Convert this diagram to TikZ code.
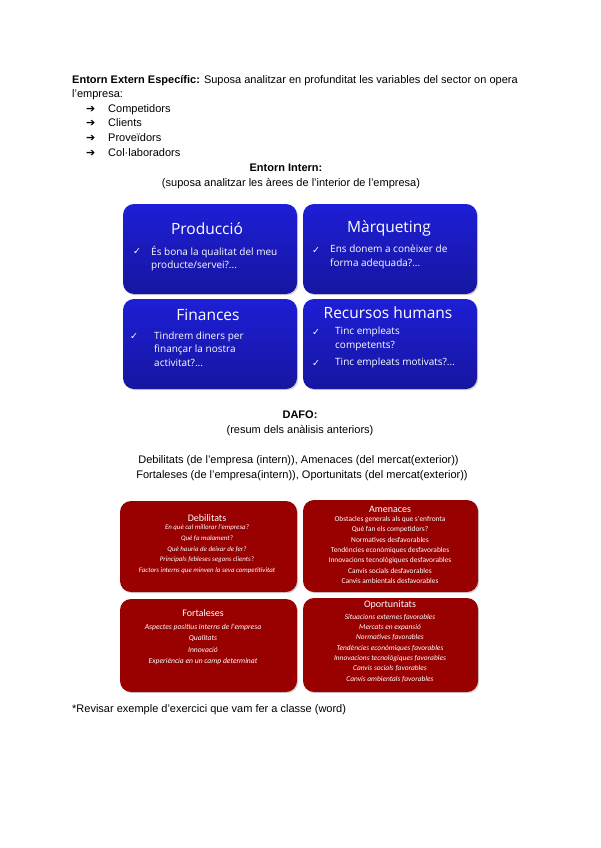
\documentclass[tikz,border=0pt]{standalone}
\usepackage{fontspec}
\setmainfont{Liberation Sans}
\newfontfamily\areafont{Open Sans}
\newfontfamily\dafofont{Carlito}
\newfontfamily\symfont{DejaVu Sans}
\usetikzlibrary{positioning,shadows}
\definecolor{areatop}{RGB}{30,30,214}
\definecolor{areabot}{RGB}{22,22,160}
\definecolor{dafored}{RGB}{153,0,0}

\begin{document}
\begin{tikzpicture}[x=1pt,y=-1pt,
txt/.style={anchor=base west,inner sep=0,font=\fontsize{11}{13}\selectfont},
mid/.style={anchor=base,inner sep=0,font=\fontsize{11}{13}\selectfont},
area/.style={rounded corners=11pt,minimum width=174pt,minimum height=90pt,
top color=areatop,bottom color=areabot,draw=none,
drop shadow={opacity=.35,shadow xshift=1.2pt,shadow yshift=-1.2pt}},
areahead/.style={text=white,inner sep=0,font=\areafont\fontsize{15.5}{18}\selectfont},
tick/.style={text=white,inner sep=0,font=\symfont\fontsize{9.5}{10}\selectfont},
areaitem/.style={text=white,anchor=north west,inner sep=0,align=left,
font=\areafont\fontsize{10}{13.6}\selectfont},
swot/.style={rounded corners=11pt,fill=dafored,draw=none,
drop shadow={opacity=.35,shadow xshift=1.2pt,shadow yshift=-1.2pt}},
swothead/.style={text=white,inner sep=0,font=\dafofont\fontsize{10}{12}\selectfont},
swotitem/.style={text=white,anchor=north,inner sep=0,align=center,
font=\dafofont\fontsize{7.4}{10.6}\selectfont}]
\useasboundingbox (0,0) rectangle (600,848);
% entorn extern
\node[txt] (extern) at (72,84) {\textbf{Entorn Extern Específic:} Suposa analitzar en profunditat les variables del sector on opera};
\node[txt] (empresa) at (72,98) {l'empresa:};
\foreach \nom [count=\i] in {Competidors,Clients,Proveïdors,Col·laboradors}{
\node[txt,font=\symfont\bfseries\fontsize{11}{13}\selectfont] (arrow\i) at (86,97.7+14.6*\i) {➔};
\node[txt] (factor\i) at (108,97.7+14.6*\i) {\nom};
}
% entorn intern
\node[mid] (intern) at (286,171) {\textbf{Entorn Intern:}};
\node[mid] (internsub) at (291,186) {(suposa analitzar les àrees de l'interior de l'empresa)};
\node[area] (prod) at (210,249) {};
\node[area] (mark) at (390,249) {};
\node[area] (fin) at (210,344) {};
\node[area] (rrhh) at (390,344) {};
\node[areahead] (prodhead) at (207,229) {Producció};
\node[areahead] (markhead) at (389,228) {Màrqueting};
\node[areahead] (finhead) at (208,315) {Finances};
\node[areahead] (rrhhhead) at (388,313) {Recursos humans};
\node[tick] (prodtick) at (137,252) {✓};
\node[areaitem] (prodtext) at (151,245.5) {És bona la qualitat del meu\\producte/servei?...};
\node[tick] (marktick) at (316,251) {✓};
\node[areaitem] (marktext) at (330,245) {Ens donem a conèixer de\\forma adequada?...};
\node[tick] (fintick) at (134,337) {✓};
\node[areaitem] (fintext) at (154,331.5) {Tindrem diners per\\finançar la nostra\\activitat?...};
\node[tick] (rrhhtick) at (316,333) {✓};
\node[areaitem] (rrhhtext) at (335,327) {Tinc empleats\\competents?};
\node[tick] (rrhhtick2) at (316,364) {✓};
\node[areaitem] (rrhhtext2) at (335,358) {Tinc empleats motivats?...};
% dafo
\node[mid] (dafo) at (300,418) {\textbf{DAFO:}};
\node[mid] (dafosub) at (300,433) {(resum dels anàlisis anteriors)};
\node[mid] (dafoline1) at (298.5,463) {Debilitats (de l'empresa (intern)), Amenaces (del mercat(exterior))};
\node[mid] (dafoline2) at (302,478) {Fortaleses (de l'empresa(intern)), Oportunitats (del mercat(exterior))};
\node[swot,minimum width=177pt,minimum height=91pt] (deb) at (208.5,546.5) {};
\node[swot,minimum width=175pt,minimum height=92pt] (ame) at (390.5,546) {};
\node[swot,minimum width=177pt,minimum height=93pt] (fort) at (208.5,645.5) {};
\node[swot,minimum width=175pt,minimum height=94pt] (opor) at (390.5,645) {};
\node[swothead] (debhead) at (207,518) {Debilitats};
\node[swotitem,font=\dafofont\itshape\fontsize{6.9}{10.6}\selectfont] (debtext) at (207,525) {En què cal millorar l'empresa?\\Què fa malament?\\Què hauria de deixar de fer?\\Principals febleses segons clients?\\Factors interns que minven la seva competitivitat};
\node[swothead] (amehead) at (390,509) {Amenaces};
\node[swotitem,font=\dafofont\fontsize{7.4}{10.4}\selectfont] (ametext) at (390,516) {Obstacles generals als que s'enfronta\\Què fan els competidors?\\Normatives desfavorables\\Tendències econòmiques desfavorables\\Innovacions tecnològiques desfavorables\\Canvis socials desfavorables\\Canvis ambientals desfavorables};
\node[swothead] (forthead) at (203,613) {Fortaleses};
\node[swotitem,font=\dafofont\itshape\fontsize{7.6}{11.3}\selectfont] (forttext) at (203,624) {Aspectes positius interns de l'empresa\\Qualitats\\Innovació\\Experiència en un camp determinat};
\node[swothead] (oporhead) at (390,605) {Oportunitats};
\node[swotitem,font=\dafofont\itshape\fontsize{7.4}{10.3}\selectfont] (oportext) at (390,614) {Situacions externes favorables\\Mercats en expansió\\Normatives favorables\\Tendències econòmiques favorables\\Innovacions tecnològiques favorables\\Canvis socials favorables\\Canvis ambientals favorables};
\node[txt] (revisar) at (72,712) {*Revisar exemple d'exercici que vam fer a classe (word)};
\end{tikzpicture}
\end{document}
